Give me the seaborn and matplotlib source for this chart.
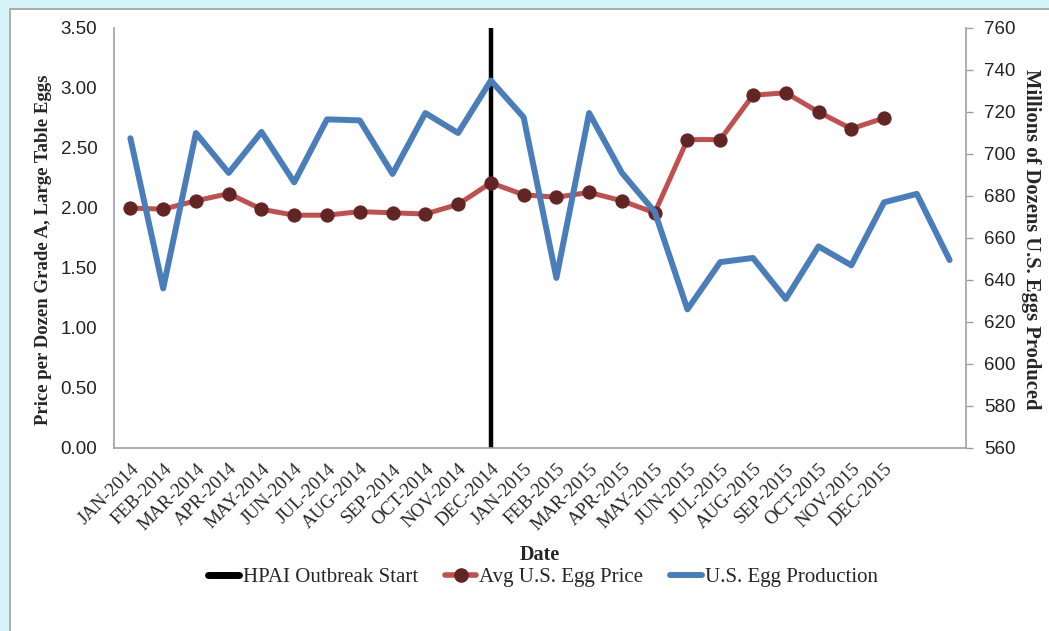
import matplotlib
matplotlib.use("Agg")
import matplotlib.pyplot as plt
import seaborn as sns
import pandas as pd
from matplotlib.patches import Rectangle
from matplotlib.lines import Line2D

months = ["JAN-2014", "FEB-2014", "MAR-2014", "APR-2014", "MAY-2014", "JUN-2014",
          "JUL-2014", "AUG-2014", "SEP-2014", "OCT-2014", "NOV-2014", "DEC-2014",
          "JAN-2015", "FEB-2015", "MAR-2015", "APR-2015", "MAY-2015", "JUN-2015",
          "JUL-2015", "AUG-2015", "SEP-2015", "OCT-2015", "NOV-2015", "DEC-2015",
          "", ""]
price = [2.00, 1.99, 2.06, 2.12, 1.99, 1.94, 1.94, 1.97, 1.96, 1.95, 2.03, 2.21,
         2.11, 2.09, 2.13, 2.06, 1.96, 2.57, 2.57, 2.94, 2.96, 2.80, 2.66, 2.75]
production = [707.5, 636, 710, 691, 710.5, 686.5, 716.5, 716, 690.5, 719.5, 710, 735,
              717.5, 641, 719.5, 691, 672.5, 626, 648.5, 650.5, 631, 656, 647, 677,
              681, 649.5]
outbreak_month = "DEC-2014"

sns.set_style("white")
plt.rcParams["font.family"] = ["Liberation Serif", "DejaVu Serif"]

fig = plt.figure(figsize=(10.49, 6.31), dpi=100)
fig.patch.set_facecolor("#D7F4F9")
fig.patches.append(Rectangle((10 / 1049, -0.01), 1.1, 1 - 9 / 631 + 0.01,
                             transform=fig.transFigure, facecolor="white",
                             edgecolor="#A0A0A0", linewidth=1.2, zorder=-5))

ax = fig.add_axes([114 / 1049, 1 - 448 / 631, (966 - 114) / 1049, (448 - 28) / 631])
ax.set_facecolor("none")

df_p = pd.DataFrame({"x": range(len(price)), "price": price})
df_q = pd.DataFrame({"x": range(len(production)), "prod": production})

idx = months.index(outbreak_month)
ax.axvline(idx, color="black", lw=3.2, zorder=1)
sns.lineplot(data=df_p, x="x", y="price", ax=ax, color="#C0504D", lw=3.6,
             marker="o", markersize=9.5, markerfacecolor="#632523",
             markeredgecolor="#632523", zorder=3, legend=False)

ax2 = ax.twinx()
ax2.set_facecolor("none")
sns.lineplot(data=df_q, x="x", y="prod", ax=ax2, color="#4A7EBB", lw=4.3,
             zorder=4, legend=False)

ax.set_xlim(-0.5, len(months) - 0.5)
ax.set_ylim(0, 3.5)
ax2.set_ylim(560, 760)
ax.set_yticks([i * 0.5 for i in range(8)])
ax.set_yticklabels([f"{i * 0.5:.2f}" for i in range(8)],
                   family=["Liberation Sans", "DejaVu Sans"], fontsize=13.5, color="#222222")
ax2.set_yticks(range(560, 761, 20))
ax2.set_yticklabels([str(v) for v in range(560, 761, 20)],
                    family=["Liberation Sans", "DejaVu Sans"], fontsize=13.5, color="#222222")
ax.set_xticks(range(len(months)))
ax.set_xticklabels(months, rotation=45, ha="right", rotation_mode="anchor", fontsize=13.5)
ax.tick_params(axis="x", length=0, pad=9)
ax.tick_params(axis="y", length=0, pad=12)
ax2.tick_params(axis="y", length=5, width=1, color="#A0A0A0", direction="out", pad=8)

for a in (ax, ax2):
    a.spines["top"].set_visible(False)
    for s in ("left", "right", "bottom"):
        a.spines[s].set_color("#A0A0A0")
        a.spines[s].set_linewidth(1.2)
ax.spines["right"].set_visible(False)
ax2.spines["left"].set_visible(False)
ax2.spines["bottom"].set_visible(False)

ax.set_xlabel("")
ax.set_ylabel("Price per Dozen Grade A, Large Table Eggs", fontsize=13.5, fontweight="bold",
              va="center")
ax.yaxis.set_label_coords((44 - 114) / 852, (448 - 250) / 420)
ax2.set_ylabel("Millions of Dozens U.S. Eggs Produced", fontsize=14.8, fontweight="bold",
               rotation=270, va="center")
ax2.yaxis.set_label_coords((1031 - 114) / 852, (448 - 239) / 420)

fig.text(540 / 1049, 1 - 555 / 631, "Date", ha="center", va="center",
         fontsize=14.5, fontweight="bold")

handles = [
    Line2D([], [], color="black", lw=5),
    Line2D([], [], color="#C0504D", lw=4, marker="o", markersize=9.5,
           markerfacecolor="#632523", markeredgecolor="#632523"),
    Line2D([], [], color="#4A7EBB", lw=4.3),
]
labels = ["HPAI Outbreak Start", "Avg U.S. Egg Price", "U.S. Egg Production"]
fig.legend(handles, labels, loc="center", bbox_to_anchor=(543 / 1049, 1 - 577 / 631),
           ncol=3, frameon=False, fontsize=15, handlelength=1.5, handletextpad=0.15,
           columnspacing=1.3)

fig.savefig("out.png", dpi=100, facecolor=fig.get_facecolor())
